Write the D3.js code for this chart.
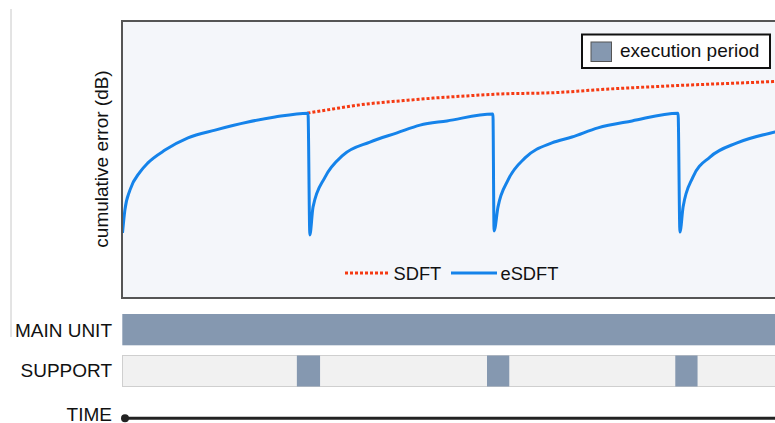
<!DOCTYPE html>
<html>
<head>
<meta charset="utf-8">
<script src="https://cdn.jsdelivr.net/npm/d3@7"></script>
<style>
  html, body { margin: 0; padding: 0; background: #ffffff; }
  svg { display: block; font-family: "Liberation Sans", Arial, Helvetica, sans-serif; }
</style>
</head>
<body>
<svg id="chart" width="775" height="423"></svg>
<script>
// Time axis: samples, one update period = 100 samples
const esdftT = [0, 1.3, 4, 9.4, 13.7, 22.9, 35.3, 49.9, 67.7, 82.2, 100,
                101, 102.7, 109.2, 118.9, 133.4, 148, 160.4, 174.9, 199.7,
                200.3, 202.4, 207.8, 217, 231.5, 242.3, 256.3, 274.7, 299.5,
                300.5, 302.2, 307.5, 316.7, 331.3, 351.8, 358];
const esdftErr = [23.4, 31.7, 38.8, 45.3, 48.6, 53.2, 57.6, 60.4, 63.3, 65.1, 66.5,
                  22.7, 32.7, 43.5, 51.4, 56.1, 59.4, 62.2, 63.7, 66.2,
                  24.1, 32.7, 42.4, 50.4, 55.8, 57.9, 61.2, 63.7, 66.5,
                  23.7, 32.7, 43.5, 50.7, 55.8, 59.7, 60.6];

const sdftT = [99.7, 113.5, 131.8, 149.6, 167.4, 185.7, 203.5, 230.5, 262.8, 295, 351.8, 358];
const sdftErr = [66.5, 68.0, 69.8, 70.9, 71.9, 72.7, 73.4, 73.8, 75.2, 76.3, 77.9, 78.1];

// Support unit execution windows (start, end) in samples
const supportStart = [94, 196.5, 298];
const supportEnd = [106.5, 208.5, 310];

const rowLabels = ["MAIN UNIT", "SUPPORT", "TIME"];
const seriesNames = ["SDFT", "eSDFT"];
const legendLabel = "execution period";
const yTitle = "cumulative error (dB)";

const svg = d3.select("#chart");

const x = d3.scaleLinear().domain([0, 360]).range([122.5, 790.3]);
const y = d3.scaleLinear().domain([0, 100]).range([298, 20]);

const blue = "#1583ea";
const red = "#f53a12";
const execFill = "#8598b0";

// left guide rule
svg.append("line").attr("x1", 11).attr("x2", 11).attr("y1", 9).attr("y2", 337)
  .attr("stroke", "#c8c8c8").attr("stroke-width", 1);

// plot panel
svg.append("rect").attr("x", 122).attr("y", 21).attr("width", 680).attr("height", 277)
  .attr("fill", "#f4f6fa").attr("stroke", "#555").attr("stroke-width", 2);

svg.append("clipPath").attr("id", "plotClip")
  .append("rect").attr("x", 123).attr("y", 22).attr("width", 678).attr("height", 275);

const plot = svg.append("g").attr("clip-path", "url(#plotClip)");

const line = d3.line().x(d => x(d[0])).y(d => y(d[1])).curve(d3.curveMonotoneX);

plot.append("path")
  .datum(sdftT.map((t, i) => [t, sdftErr[i]]))
  .attr("d", line).attr("fill", "none")
  .attr("stroke", red).attr("stroke-width", 3).attr("stroke-dasharray", "3,2");

plot.append("path")
  .datum(esdftT.map((t, i) => [t, esdftErr[i]]))
  .attr("d", line).attr("fill", "none")
  .attr("stroke", blue).attr("stroke-width", 3).attr("stroke-linejoin", "round");

// y title
svg.append("text")
  .attr("transform", "translate(108,159) rotate(-90)")
  .attr("text-anchor", "middle").attr("font-size", 19).attr("fill", "#111")
  .text(yTitle);

// execution period legend
const lg = svg.append("g");
lg.append("rect").attr("x", 582).attr("y", 34.5).attr("width", 188).attr("height", 33.5)
  .attr("fill", "#fff").attr("stroke", "#111").attr("stroke-width", 2);
lg.append("rect").attr("x", 591).attr("y", 42).attr("width", 20.5).attr("height", 19.5)
  .attr("fill", execFill).attr("stroke", "#555").attr("stroke-width", 1);
lg.append("text").attr("x", 620).attr("y", 57).attr("font-size", 19).attr("fill", "#111")
  .text(legendLabel);

// series legend
const sl = svg.append("g");
sl.append("line").attr("x1", 345).attr("x2", 390).attr("y1", 273).attr("y2", 273)
  .attr("stroke", red).attr("stroke-width", 3).attr("stroke-dasharray", "3,2");
sl.append("text").attr("x", 393.5).attr("y", 280).attr("font-size", 18.3).attr("fill", "#111")
  .text(seriesNames[0]);
sl.append("line").attr("x1", 451).attr("x2", 497).attr("y1", 273).attr("y2", 273)
  .attr("stroke", blue).attr("stroke-width", 3);
sl.append("text").attr("x", 500.5).attr("y", 280).attr("font-size", 18.3).attr("fill", "#111")
  .text(seriesNames[1]);

// main unit row: always executing
svg.append("rect").attr("x", 122.3).attr("y", 314).attr("width", 680).attr("height", 31.3)
  .attr("fill", execFill);

// support row
svg.append("rect").attr("x", 122.5).attr("y", 355.5).attr("width", 680).attr("height", 31)
  .attr("fill", "#f1f1f1").attr("stroke", "#cfcfcf").attr("stroke-width", 1);
svg.selectAll("rect.exec").data(supportStart).enter().append("rect")
  .attr("class", "exec")
  .attr("x", (d) => x(d)).attr("y", 355.5)
  .attr("width", (d, i) => x(supportEnd[i]) - x(d)).attr("height", 31)
  .attr("fill", execFill);

// time arrow
svg.append("line").attr("x1", 125).attr("x2", 790).attr("y1", 418.3).attr("y2", 418.3)
  .attr("stroke", "#222").attr("stroke-width", 3);
svg.append("circle").attr("cx", 125).attr("cy", 418.3).attr("r", 4).attr("fill", "#222");

// row labels
const labelY = [336.5, 377.3, 421];
svg.selectAll("text.row").data(rowLabels).enter().append("text")
  .attr("class", "row")
  .attr("x", 112).attr("y", (d, i) => labelY[i])
  .attr("text-anchor", "end").attr("font-size", 19).attr("fill", "#111")
  .text(d => d);
</script>
</body>
</html>
